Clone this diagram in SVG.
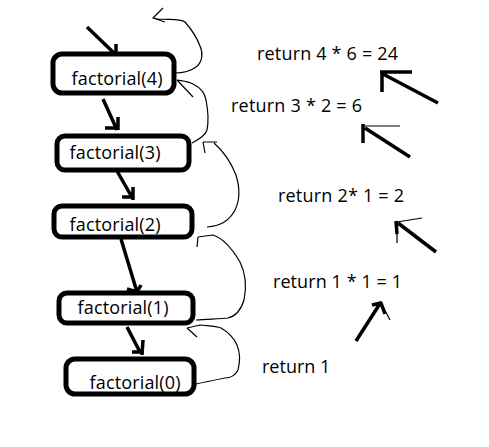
<svg xmlns="http://www.w3.org/2000/svg" width="489" height="447" viewBox="0 0 489 447">
<style>
.box{fill:#fff;stroke:#000;stroke-width:5;}
.lbl{font-family:"Open Sans","Noto Sans",sans-serif;font-size:18px;fill:#000;}
.thick{fill:none;stroke:#000;stroke-width:3.5;stroke-linecap:butt;stroke-linejoin:round;}
.thin{fill:none;stroke:#000;stroke-width:1.2;stroke-linejoin:round;}
</style>
<rect width="489" height="447" fill="#fff"/>
<g id="connectors">
  <path class="thick" d="M87,27 L115,54"/>
  <path class="thick" d="M116,44 L116,58"/>
  <path class="thick" d="M103,99 L117,130 M105,128 L118,128 M118,117 L118,130"/>
  <path class="thick" d="M117,171 L133,199 M122,197 L133,197 M133,187 L133,200"/>
  <path class="thick" d="M121,239 L137,292 M127,289 L137,292 L141,285"/>
  <path class="thick" d="M127,327 L140,352 M132,352 L141,352 M143,340 L142,355"/>
  <path class="thin" d="M175,73 C186,73 192,70 196,67 C203,62 203,52 200,46 C197,38 192,30 185,22 C180,18 170,20 158,19 L153,18 L163,8 M153,18 L165,22"/>
  <path class="thin" d="M177,80 L193,97 M177,80 C183,81 188,81 193,84 C201,88 205,93 206,100 C208,110 209,120 207,130 C205,136 198,140 192,143"/>
  <path class="thin" d="M203,142 L205,153 M203,142 L217,142 M214,143 C222,150 230,160 236,175 C240,188 240,200 235,210 C230,220 222,226 207,227"/>
  <path class="thin" d="M198,237 L197,247 M198,237 L213,235 C222,238 230,245 240,262 C245,272 247,285 244,300 C241,310 236,316 228,318 C220,319 208,319 196,320"/>
  <path class="thin" d="M187,328 L197,337 M187,328 L200,325 C208,326 215,326 221,328 C228,332 233,336 237,345 C240,352 240,362 238,370 C235,376 230,378 225,378 C215,380 205,382 196,384"/>
  <path class="thick" d="M438,103 L383,74 M380,72 L412,72 M382,72 L382,92"/>
  <path class="thick" d="M410,157 L365,128 M363,124 L363,143"/>
  <path class="thin" d="M363,126 L400,126"/>
  <path class="thick" d="M436,252 L398,223 M396,221 L397,234"/>
  <path class="thin" d="M397,222 L422,218 M397,222 L397,243"/>
  <path class="thick" d="M356,341 L381,302 M372,305 L381,303 L385,314"/>
  <path class="thin" d="M381,303 L390,320"/>
</g>
<g id="f4">
  <rect class="box" x="53" y="54" width="121" height="39" rx="9"/>
  <text class="lbl" x="117" y="85" text-anchor="middle" textLength="91">factorial(4)</text>
</g>
<g id="f3">
  <rect class="box" x="57" y="136" width="132" height="34" rx="8"/>
  <text class="lbl" x="115" y="159" text-anchor="middle" textLength="91">factorial(3)</text>
</g>
<g id="f2">
  <rect class="box" x="54" y="206" width="138" height="31" rx="8"/>
  <text class="lbl" x="115" y="231" text-anchor="middle" textLength="91">factorial(2)</text>
</g>
<g id="f1">
  <rect class="box" x="59" y="293" width="134" height="30" rx="8"/>
  <text class="lbl" x="123" y="314" text-anchor="middle" textLength="91">factorial(1)</text>
</g>
<g id="f0">
  <rect class="box" x="66" y="359" width="128" height="35" rx="9"/>
  <text class="lbl" x="135" y="389" text-anchor="middle" textLength="91">factorial(0)</text>
</g>
<g id="returns">
  <text class="lbl" x="257" y="60" textLength="141">return 4 * 6 = 24</text>
  <text class="lbl" x="231" y="112" textLength="131">return 3 * 2 = 6</text>
  <text class="lbl" x="278" y="202" textLength="126">return 2* 1 = 2</text>
  <text class="lbl" x="273" y="288" textLength="129">return 1 * 1 = 1</text>
  <text class="lbl" x="262" y="373">return 1</text>
</g>
</svg>
